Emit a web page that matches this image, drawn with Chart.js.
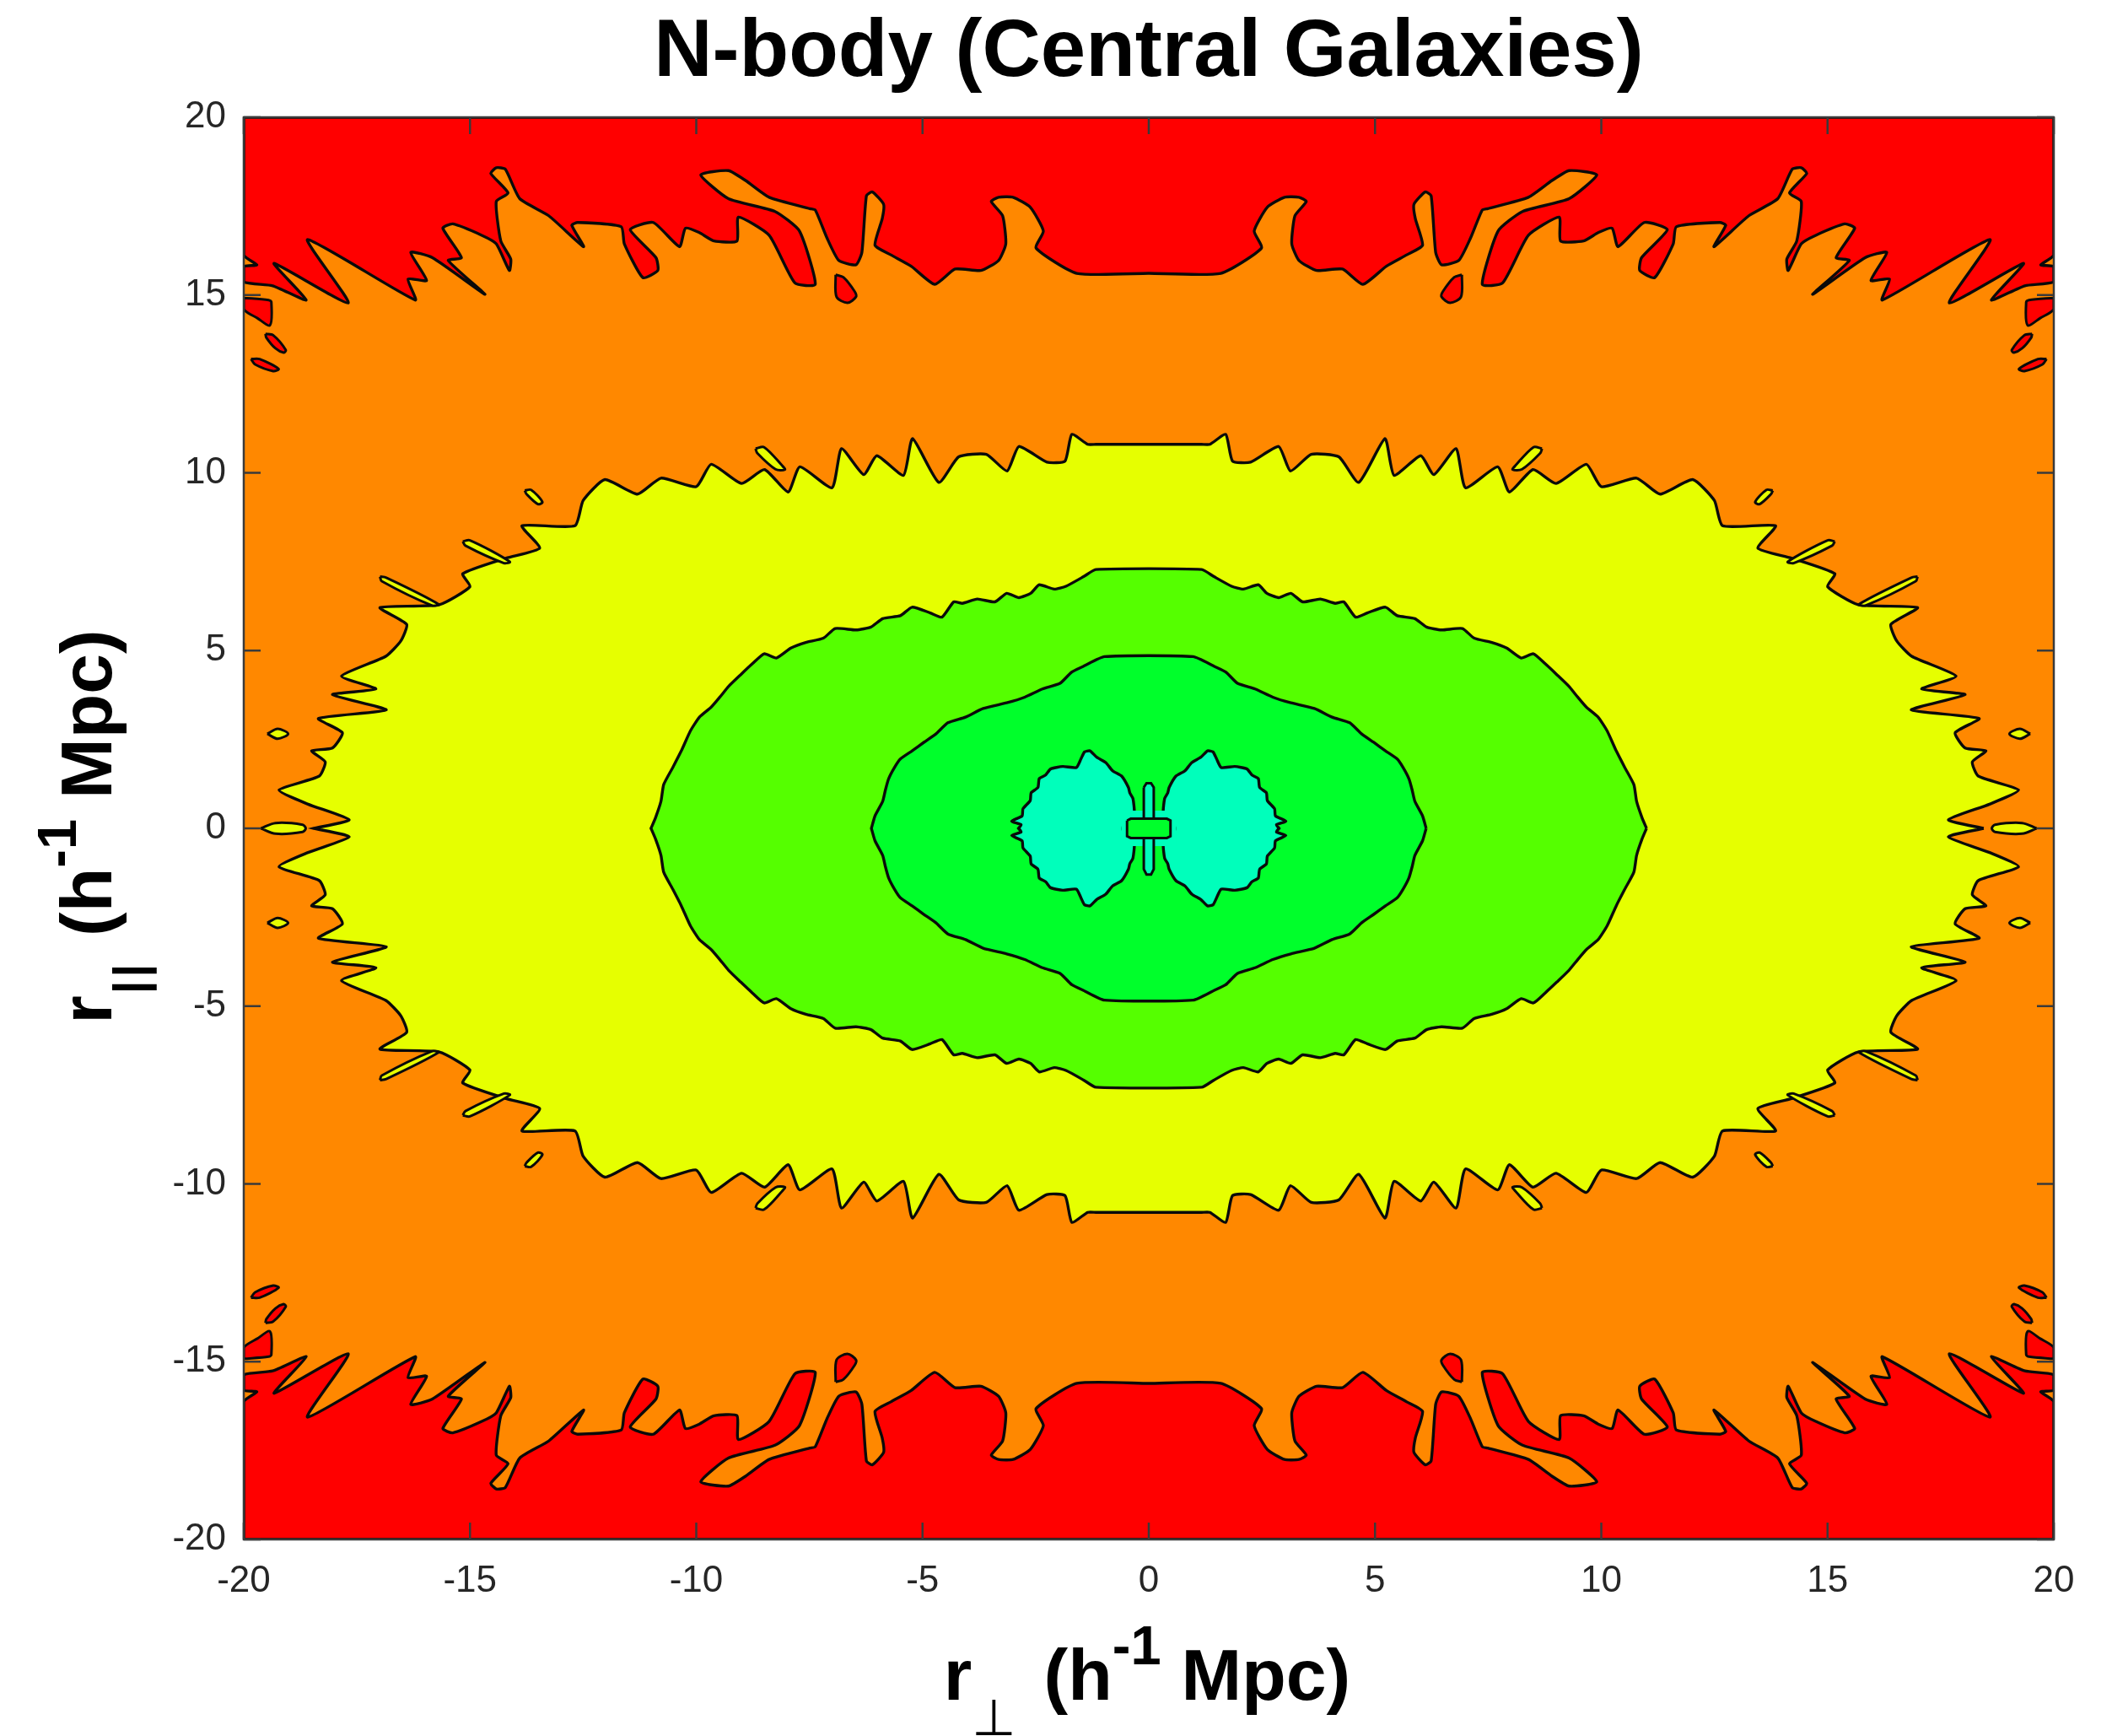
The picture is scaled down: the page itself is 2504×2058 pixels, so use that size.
<!DOCTYPE html>
<html>
<head>
<meta charset="utf-8">
<script src="https://cdn.jsdelivr.net/npm/chart.js@4.4.1/dist/chart.umd.min.js"></script>
<style>
html,body{margin:0;padding:0;background:#ffffff;}
canvas{display:block;}
</style>
</head>
<body>
<canvas id="c" width="2504" height="2058"></canvas>
<script>
// ---------------- DATA ----------------
const titleText = 'N-body (Central Galaxies)';
const xTickValues = [-20, -15, -10, -5, 0, 5, 10, 15, 20];
const xTickLabels = ['-20', '-15', '-10', '-5', '0', '5', '10', '15', '20'];
const yTickValues = [-20, -15, -10, -5, 0, 5, 10, 15, 20];
const yTickLabels = ['-20', '-15', '-10', '-5', '0', '5', '10', '15', '20'];

// Contour boundaries, upper-left quadrant (the map is mirror-symmetric in both axes)
// red / orange boundary, from x=-20 to x=0
const redEdge = [[-20,16.13],[-19.71,15.85],[-20,15.8],[-20,15.37],[-19.36,15.26],[-18.62,14.86],[-19.33,15.89],
 [-17.69,14.78],[-18.59,16.56],[-16.21,14.86],[-16.37,15.45],[-15.96,15.41],[-16.31,16.2],[-15.83,16.05],
 [-14.67,15.02],[-15.48,15.97],[-15.19,16.05],[-15.6,16.88],[-15.38,17.0],[-14.74,16.68],[-14.42,16.44],
 [-14.13,15.69],[-14.1,16.01],[-14.32,16.52],[-14.42,17.63],[-14.16,17.87],[-14.54,18.42],[-14.42,18.58],
 [-14.22,18.54],[-13.9,17.71],[-13.26,17.23],[-12.49,16.36],[-12.75,16.96],[-12.62,17.04],[-11.66,16.92],
 [-11.59,16.44],[-11.18,15.49],[-10.85,15.69],[-10.89,16.05],[-11.46,16.84],[-10.95,17.04],[-10.37,16.36],
 [-10.24,16.88],[-9.94,16.76],[-9.61,16.52],[-9.1,16.52],[-9.07,17.19],[-8.39,16.68],[-7.82,15.34],
 [-7.37,15.3],[-7.72,16.8],[-8.26,17.35],[-9.29,17.71],[-9.9,18.38],[-9.29,18.5],[-8.91,18.22],
 [-8.39,17.75],[-7.49,17.43],[-7.37,17.39],[-7.11,16.6],[-6.85,15.97],[-6.47,15.85],[-6.34,16.2],
 [-6.24,17.79],[-6.11,17.9],[-5.86,17.55],[-5.89,17.15],[-6.05,16.4],[-5.7,16.13],[-5.25,15.81],
 [-4.73,15.3],[-4.28,15.73],[-3.71,15.69],[-3.32,15.97],[-3.16,16.44],[-3.23,17.23],[-3.48,17.63],
 [-3.32,17.75],[-3.0,17.75],[-2.62,17.47],[-2.33,16.8],[-2.49,16.32],[-1.59,15.61],[0,15.61]];

// orange / yellow boundary, from top centre to left centre
const yellowEdge = [[-1.17,10.8],[-1.35,10.8],[-1.7,11.08],[-1.85,10.33],[-2.25,10.3],[-2.87,10.74],[-3.13,10.05],
 [-3.59,10.52],[-4.2,10.45],[-4.64,9.73],[-5.22,10.96],[-5.42,9.93],[-6.01,10.48],[-6.3,9.95],[-6.79,10.68],
 [-7.0,9.58],[-7.71,10.17],[-7.97,9.46],[-8.49,10.09],[-9.0,9.7],[-9.67,10.24],[-10.0,9.61],[-10.78,9.85],
 [-11.3,9.4],[-12.02,9.81],[-12.5,9.22],[-12.68,8.51],[-13.85,8.51],[-13.46,7.88],[-14.2,7.6],[-15.16,7.16],
 [-15.0,6.8],[-15.68,6.29],[-16.99,6.21],[-16.4,5.74],[-16.53,5.27],[-16.86,4.84],[-17.84,4.28],[-17.08,3.92],
 [-18.04,3.76],[-16.85,3.33],[-18.35,3.09],[-17.82,2.69],[-18.04,2.26],[-18.5,2.18],[-18.2,1.87],[-18.33,1.47],
 [-19.22,1.08],[-18.58,0.68],[-17.67,0.24],[-18.45,0.0]];

// yellow / lime boundary
const limeEdge = [[-1.17,7.28],[-1.44,7.08],[-1.83,6.81],[-2.09,6.73],[-2.42,6.85],[-2.61,6.61],[-2.87,6.49],
 [-3.14,6.61],[-3.4,6.37],[-3.79,6.45],[-4.12,6.33],[-4.31,6.37],[-4.57,5.94],[-4.83,6.06],[-5.23,6.22],
 [-5.49,5.98],[-5.88,5.9],[-6.14,5.66],[-6.47,5.58],[-6.93,5.62],[-7.19,5.35],[-7.58,5.23],[-7.91,5.07],
 [-8.23,4.79],[-8.5,4.91],[-8.76,4.63],[-9.02,4.32],[-9.28,4.0],[-9.48,3.69],[-9.67,3.41],[-9.93,3.13],
 [-10.13,2.74],[-10.33,2.18],[-10.52,1.71],[-10.72,1.23],[-10.78,0.76],[-10.9,0.3],[-11.0,0.0]];

// lime / green boundary
const greenEdge = [[-0.98,4.83],[-1.44,4.56],[-1.7,4.4],[-1.96,4.08],[-2.35,3.92],[-2.74,3.69],[-3.14,3.53],
 [-3.66,3.37],[-4.05,3.13],[-4.44,2.97],[-4.7,2.66],[-4.97,2.42],[-5.23,2.18],[-5.49,1.95],[-5.62,1.71],
 [-5.75,1.39],[-5.82,1.08],[-5.88,0.76],[-6.05,0.35],[-6.13,0.0]];

// green / cyan boundary: upper half of the left lobe, inner edge to outer edge
const cyanLobeEdge = [[-0.57,0.04],[-0.53,0.2],[-0.4,0.3],[-0.32,0.45],[-0.35,0.84],[-0.42,1.0],[-0.45,1.15],
 [-0.6,1.47],[-0.8,1.62],[-0.95,1.85],[-1.15,2.0],[-1.3,2.18],[-1.42,2.15],[-1.5,1.95],[-1.6,1.71],[-1.9,1.74],
 [-2.17,1.67],[-2.28,1.5],[-2.42,1.4],[-2.45,1.15],[-2.6,1.0],[-2.62,0.78],[-2.78,0.55],[-2.8,0.35],[-3.03,0.2],
 [-2.82,0.1],[-2.88,0.0]];

// small centre structure
const cyanBand = [[-0.6,0.5],[0.6,0.5],[0.6,-0.5],[-0.6,-0.5]];
const cyanStem = [[-0.11,1.15],[-0.05,1.27],[0.05,1.27],[0.11,1.15],[0.11,-1.15],[0.05,-1.3],[-0.05,-1.3],[-0.11,-1.15]];
const greenBar = [[-0.48,0.22],[-0.4,0.27],[0.4,0.27],[0.48,0.22],[0.48,-0.22],[0.4,-0.27],[-0.4,-0.27],[-0.48,-0.22]];

// isolated islands (upper-left quadrant)
const redIslands = [
 [[-6.92,15.57],[-6.75,15.5],[-6.5,15.1],[-6.47,14.95],[-6.66,14.78],[-6.9,14.95]],
 [[-20,14.92],[-19.45,14.86],[-19.39,14.8],[-19.42,14.15],[-19.7,14.35],[-20,14.6]],
 [[-19.52,13.91],[-19.35,13.87],[-19.07,13.45],[-19.12,13.38],[-19.3,13.5],[-19.5,13.8]],
 [[-19.84,13.2],[-19.65,13.2],[-19.23,12.92],[-19.35,12.86],[-19.75,13.05]]
];
const yellowIslands = [
 [[-8.69,10.68],[-8.5,10.72],[-8.1,10.2],[-8.04,10.09],[-8.25,10.1],[-8.65,10.55]],
 [[-13.79,9.5],[-13.65,9.52],[-13.4,9.18],[-13.5,9.12],[-13.75,9.4]],
 [[-15.16,8.07],[-15.0,8.1],[-14.12,7.5],[-14.25,7.46],[-15.1,7.95]],
 [[-16.99,7.08],[-16.85,7.05],[-15.69,6.3],[-15.85,6.27],[-16.95,6.95]],
 [[-19.48,2.66],[-19.25,2.8],[-19.02,2.66],[-19.25,2.52]]
];
const yellowAxisIsland = [[-19.62,0],[-19.3,0.15],[-18.7,0.1],[-18.63,0],[-18.7,-0.1],[-19.3,-0.15]];

const COLORS = {red:'#FF0000', orange:'#FF8800', yellow:'#E6FF00', lime:'#55FF00', green:'#00FF2B', cyan:'#00FFBB'};

// ---------------- helpers ----------------
const mx = p => p.map(([x,y]) => [-x, y]);
const my = p => p.map(([x,y]) => [x, -y]);
const rev = p => p.slice().reverse();
const close = p => [...p, p[0]];
const pts = p => p.map(([x,y]) => ({x, y}));
function ring(q){ return close([...rev(mx(q)), ...q, ...rev(my(q)), ...mx(my(q))]); }
function four(p){ return [close(p), close(mx(p)), close(my(p)), close(mx(my(p)))]; }

const LINE = '#0a0a0a';
function poly(p, color, order, bw, tension){
  return {data: pts(p), showLine:true, fill:'shape', backgroundColor:color, borderColor:LINE,
          borderWidth: bw === undefined ? 3.4 : bw, pointRadius:0, pointHoverRadius:0,
          tension: tension === undefined ? 0.18 : tension, order};
}

const redTop = close([[-20,20], ...redEdge, ...rev(mx(redEdge)), [20,20]]);
const redBottom = my(redTop);
const leftLobe = close([...cyanLobeEdge, ...rev(my(cyanLobeEdge))]);

const datasets = [];
datasets.push(poly(redTop, COLORS.red, 20));
datasets.push(poly(redBottom, COLORS.red, 20));
redIslands.forEach(p => four(p).forEach(q => datasets.push(poly(q, COLORS.red, 19, 3, 0.3))));
datasets.push(poly(ring(yellowEdge), COLORS.yellow, 18));
yellowIslands.forEach(p => four(p).forEach(q => datasets.push(poly(q, COLORS.yellow, 17, 3, 0.3))));
datasets.push(poly(close(yellowAxisIsland), COLORS.yellow, 17, 3, 0.3));
datasets.push(poly(close(mx(yellowAxisIsland)), COLORS.yellow, 17, 3, 0.3));
datasets.push(poly(ring(limeEdge), COLORS.lime, 16));
datasets.push(poly(ring(greenEdge), COLORS.green, 15));
datasets.push(poly(leftLobe, COLORS.cyan, 14));
datasets.push(poly(mx(leftLobe), COLORS.cyan, 14));
datasets.push(poly(close(cyanBand), COLORS.cyan, 13, 0, 0));
datasets.push(poly(close(cyanStem), COLORS.cyan, 12, 3, 0));
datasets.push(poly(close(greenBar), COLORS.green, 11, 3, 0));

// ---------------- text / frame plugin ----------------
const FF = '"Liberation Sans", Arial, Helvetica, sans-serif';
const xLabelPieces = [
  {t:'r', f:`bold 86px ${FF}`, dy:0, g:0},
  {t:'\u22A5', f:'60px "DejaVu Sans"', dy:42, g:0},
  {t:'(h', f:`bold 86px ${FF}`, dy:0, g:33},
  {t:'-1', f:`bold 65px ${FF}`, dy:-42, g:0},
  {t:'Mpc)', f:`bold 86px ${FF}`, dy:0, g:24}
];
const yLabelPieces = [
  {t:'r', f:`bold 86px ${FF}`, dy:0, g:0},
  {t:'|', f:`bold 56px ${FF}`, dy:41, g:2},
  {t:'|', f:`bold 56px ${FF}`, dy:41, g:4},
  {t:'(h', f:`bold 86px ${FF}`, dy:0, g:33},
  {t:'-1', f:`bold 65px ${FF}`, dy:-42, g:0},
  {t:'Mpc)', f:`bold 86px ${FF}`, dy:0, g:24}
];
function drawRich(ctx, pieces){
  let total = 0;
  const ws = pieces.map(p => { ctx.font = p.f; const w = ctx.measureText(p.t).width; total += p.g + w; return w; });
  let x = -total / 2;
  ctx.textAlign = 'left';
  ctx.textBaseline = 'alphabetic';
  pieces.forEach((p, i) => { x += p.g; ctx.font = p.f; ctx.fillText(p.t, x, p.dy); x += ws[i]; });
}

const framePlugin = {
  id: 'frame',
  beforeDatasetsDraw(chart){
    const {ctx, chartArea:a} = chart;
    ctx.save();
    ctx.fillStyle = COLORS.orange;
    ctx.fillRect(a.left, a.top, a.right - a.left, a.bottom - a.top);
    ctx.restore();
  },
  afterDatasetsDraw(chart){
    const {ctx, chartArea:a, scales} = chart;
    const xs = scales.x, ys = scales.y;
    ctx.save();
    ctx.strokeStyle = '#3a3a3a';
    ctx.lineWidth = 2.5;
    ctx.strokeRect(a.left, a.top, a.right - a.left, a.bottom - a.top);
    const L = 20;
    ctx.beginPath();
    xTickValues.forEach(v => {
      const px = xs.getPixelForValue(v);
      ctx.moveTo(px, a.bottom); ctx.lineTo(px, a.bottom - L);
      ctx.moveTo(px, a.top); ctx.lineTo(px, a.top + L);
    });
    yTickValues.forEach(v => {
      const py = ys.getPixelForValue(v);
      ctx.moveTo(a.left, py); ctx.lineTo(a.left + L, py);
      ctx.moveTo(a.right, py); ctx.lineTo(a.right - L, py);
    });
    ctx.stroke();
    ctx.restore();
  },
  afterDraw(chart){
    const {ctx, chartArea:a} = chart;
    const cx = (a.left + a.right) / 2;
    const cy = (a.top + a.bottom) / 2;
    ctx.save();
    ctx.fillStyle = '#000000';
    ctx.font = `bold 96px ${FF}`;
    ctx.textAlign = 'center';
    ctx.textBaseline = 'alphabetic';
    ctx.fillText(titleText, cx, a.top - 49);
    ctx.restore();

    ctx.save();
    ctx.fillStyle = '#000000';
    ctx.translate(cx - 2, a.bottom + 190);
    drawRich(ctx, xLabelPieces);
    ctx.restore();

    ctx.save();
    ctx.fillStyle = '#000000';
    ctx.translate(a.left - 157, cy - 2);
    ctx.rotate(-Math.PI / 2);
    drawRich(ctx, yLabelPieces);
    ctx.restore();
  }
};

// ---------------- chart ----------------
new Chart(document.getElementById('c'), {
  type: 'scatter',
  data: { datasets },
  options: {
    responsive: false,
    animation: false,
    events: [],
    layout: { padding: { top: 139, left: 0, right: 69, bottom: 0 } },
    plugins: { legend: { display: false }, tooltip: { enabled: false }, title: { display: false } },
    scales: {
      x: {
        type: 'linear', min: -20, max: 20,
        grid: { display: false, drawTicks: false },
        border: { display: false },
        afterFit(scale){ scale.height = 233; },
        afterBuildTicks(scale){ scale.ticks = xTickValues.map(v => ({value: v})); },
        ticks: {
          autoSkip: false, maxRotation: 0, padding: 23, color: '#262626',
          font: { family: FF, size: 44 },
          callback: (v) => { const i = xTickValues.indexOf(v); return i >= 0 ? xTickLabels[i] : ''; }
        }
      },
      y: {
        type: 'linear', min: -20, max: 20,
        grid: { display: false, drawTicks: false },
        border: { display: false },
        afterFit(scale){ scale.width = 289; },
        afterBuildTicks(scale){ scale.ticks = yTickValues.map(v => ({value: v})); },
        ticks: {
          autoSkip: false, padding: 21, color: '#262626',
          font: { family: FF, size: 44 },
          callback: (v) => { const i = yTickValues.indexOf(v); return i >= 0 ? yTickLabels[i] : ''; }
        }
      }
    }
  },
  plugins: [framePlugin]
});
</script>
</body>
</html>
